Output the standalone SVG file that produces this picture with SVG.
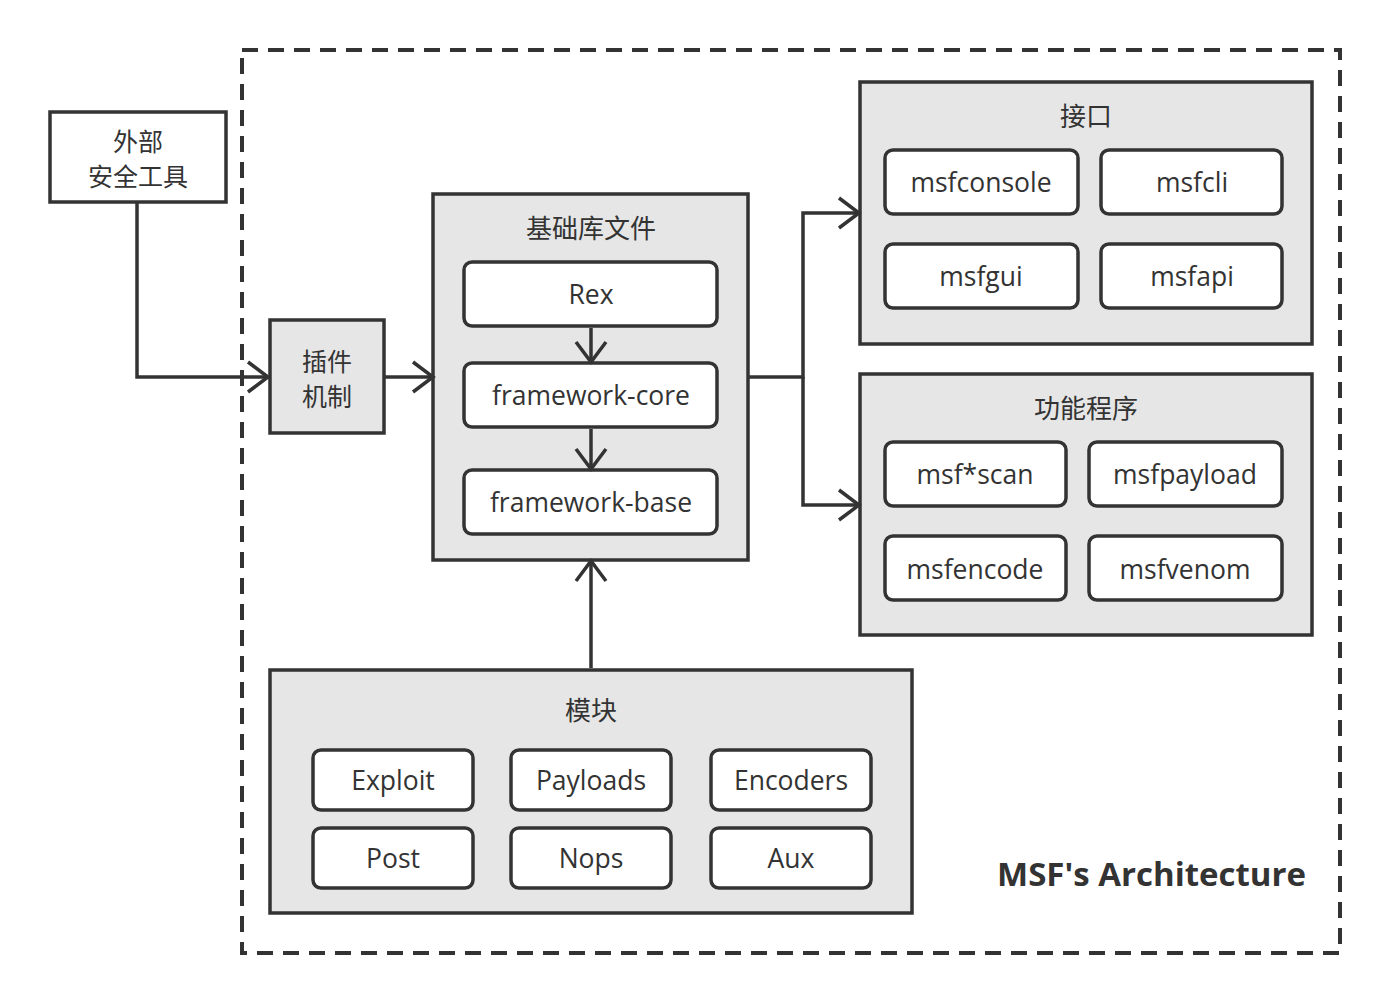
<svg xmlns="http://www.w3.org/2000/svg" width="1390" height="1004" viewBox="0 0 1390 1004">
<style>
.box{fill:#e6e6e6;stroke:#333;stroke-width:3.5}
.wbox{fill:#fff;stroke:#333;stroke-width:3.5}
.item{fill:#fff;stroke:#333;stroke-width:3.5}
.t{font-family:"Open Sans","Noto Sans CJK SC",sans-serif;font-size:26.5px;fill:#333;text-anchor:middle}
.c{font-family:"Noto Sans CJK SC",sans-serif;font-size:26px;fill:#333;text-anchor:middle}
.c2{font-family:"Noto Sans CJK SC",sans-serif;font-size:25px;fill:#333;text-anchor:middle}
.ln{fill:none;stroke:#333;stroke-width:3.5}
</style>
<defs>
<marker id="arr" markerUnits="userSpaceOnUse" markerWidth="30" markerHeight="36" refX="22" refY="16" orient="auto" viewBox="0 0 30 32">
<path d="M2,1 L22,16 L2,31" fill="none" stroke="#333" stroke-width="3.5"/>
</marker>
</defs>
<rect x="0" y="0" width="1390" height="1004" fill="#fff"/>
<rect id="frame" x="242" y="50" width="1098" height="903" fill="none" stroke="#333" stroke-width="4" stroke-dasharray="16 10"/>

<g id="external">
<rect class="wbox" x="50" y="112" width="176" height="90"/>
<text class="c2" x="138" y="151">外部</text>
<text class="c2" x="138" y="186">安全工具</text>
</g>

<g id="plugin">
<rect class="box" x="270" y="320" width="114" height="113"/>
<text class="c2" x="327" y="371">插件</text>
<text class="c2" x="327" y="406">机制</text>
</g>

<g id="lib">
<rect class="box" x="433" y="194" width="315" height="366"/>
<text class="c" x="591" y="238">基础库文件</text>
<g id="rex"><rect class="item" x="464" y="262" width="253" height="64" rx="8"/><text class="t" x="591" y="304">Rex</text></g>
<g id="core"><rect class="item" x="464" y="363" width="253" height="64" rx="8"/><text class="t" x="591" y="405">framework-core</text></g>
<g id="base"><rect class="item" x="464" y="470" width="253" height="64" rx="8"/><text class="t" x="591" y="512">framework-base</text></g>
</g>

<g id="iface">
<rect class="box" x="860" y="82" width="452" height="262"/>
<text class="c" x="1086" y="126">接口</text>
<g id="msfconsole"><rect class="item" x="885" y="150" width="193" height="64" rx="8"/><text class="t" x="981" y="192">msfconsole</text></g>
<g id="msfcli"><rect class="item" x="1101" y="150" width="181" height="64" rx="8"/><text class="t" x="1192" y="192">msfcli</text></g>
<g id="msfgui"><rect class="item" x="885" y="244" width="193" height="64" rx="8"/><text class="t" x="981" y="286">msfgui</text></g>
<g id="msfapi"><rect class="item" x="1101" y="244" width="181" height="64" rx="8"/><text class="t" x="1192" y="286">msfapi</text></g>
</g>

<g id="progs">
<rect class="box" x="860" y="374" width="452" height="261"/>
<text class="c" x="1086" y="418">功能程序</text>
<g id="msfscan"><rect class="item" x="885" y="442" width="181" height="64" rx="8"/><text class="t" x="975" y="484">msf*scan</text></g>
<g id="msfpayload"><rect class="item" x="1089" y="442" width="193" height="64" rx="8"/><text class="t" x="1185" y="484">msfpayload</text></g>
<g id="msfencode"><rect class="item" x="885" y="536" width="181" height="64" rx="8"/><text class="t" x="975" y="579">msfencode</text></g>
<g id="msfvenom"><rect class="item" x="1089" y="536" width="193" height="64" rx="8"/><text class="t" x="1185" y="579">msfvenom</text></g>
</g>

<g id="modules">
<rect class="box" x="270" y="670" width="642" height="243"/>
<text class="c" x="591" y="720">模块</text>
<g id="exploit"><rect class="item" x="313" y="750" width="160" height="60" rx="8"/><text class="t" x="393" y="790">Exploit</text></g>
<g id="payloads"><rect class="item" x="511" y="750" width="160" height="60" rx="8"/><text class="t" x="591" y="790">Payloads</text></g>
<g id="encoders"><rect class="item" x="711" y="750" width="160" height="60" rx="8"/><text class="t" x="791" y="790">Encoders</text></g>
<g id="post"><rect class="item" x="313" y="828" width="160" height="60" rx="8"/><text class="t" x="393" y="868">Post</text></g>
<g id="nops"><rect class="item" x="511" y="828" width="160" height="60" rx="8"/><text class="t" x="591" y="868">Nops</text></g>
<g id="aux"><rect class="item" x="711" y="828" width="160" height="60" rx="8"/><text class="t" x="791" y="868">Aux</text></g>
</g>

<g id="connectors">
<path class="ln" d="M137,202 V377 H268" marker-end="url(#arr)"/>
<path class="ln" d="M384,377 H433" marker-end="url(#arr)"/>
<path class="ln" d="M591,328 V362" marker-end="url(#arr)"/>
<path class="ln" d="M591,429 V469" marker-end="url(#arr)"/>
<path class="ln" d="M748,377 H803 V213 H859" marker-end="url(#arr)"/>
<path class="ln" d="M803,377 V505 H859" marker-end="url(#arr)"/>
<path class="ln" d="M591,668 V561" marker-end="url(#arr)"/>
</g>

<text x="1306" y="886" text-anchor="end" font-family="'Open Sans',sans-serif" font-weight="bold" font-size="33" fill="#333">MSF's Architecture</text>
</svg>
